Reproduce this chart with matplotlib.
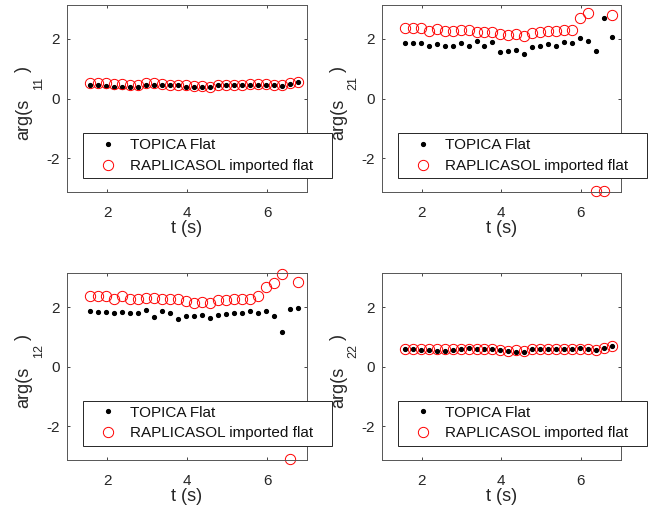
import matplotlib
matplotlib.use('Agg')
import numpy as np
import matplotlib.pyplot as plt

plt.rcParams['font.family'] = ['Liberation Sans', 'DejaVu Sans']
plt.rcParams['axes.unicode_minus'] = False

# time axis (s)
t = [1.58, 1.78, 1.98, 2.18, 2.38, 2.58, 2.78, 2.98, 3.18, 3.38, 3.58, 3.78, 3.98, 4.18,
     4.38, 4.58, 4.78, 4.98, 5.18, 5.38, 5.58, 5.78, 5.98, 6.18, 6.38, 6.58, 6.78]

# phase of S-parameters (rad)
s11_topica = [0.45, 0.46, 0.43, 0.40, 0.37, 0.37, 0.40, 0.46, 0.47, 0.46, 0.45, 0.44, 0.40, 0.37,
              0.37, 0.37, 0.44, 0.44, 0.45, 0.46, 0.46, 0.47, 0.47, 0.46, 0.43, 0.49, 0.56]
s11_raplicasol = [0.51, 0.51, 0.51, 0.48, 0.48, 0.46, 0.47, 0.51, 0.51, 0.48, 0.47, 0.46, 0.44, 0.43,
                  0.43, 0.40, 0.45, 0.46, 0.47, 0.47, 0.49, 0.49, 0.49, 0.47, 0.44, 0.51, 0.55]

s21_topica = [1.87, 1.85, 1.85, 1.76, 1.83, 1.76, 1.76, 1.87, 1.76, 1.94, 1.76, 1.91, 1.57, 1.60,
              1.64, 1.51, 1.74, 1.76, 1.84, 1.75, 1.91, 1.88, 2.02, 1.94, 1.61, 2.71, 2.08]
s21_raplicasol = [2.36, 2.36, 2.36, 2.28, 2.33, 2.26, 2.27, 2.29, 2.29, 2.24, 2.24, 2.22, 2.18, 2.12,
                  2.18, 2.10, 2.19, 2.24, 2.26, 2.26, 2.30, 2.31, 2.70, 2.87, -3.12, -3.12, 2.82]

s12_topica = [1.87, 1.84, 1.84, 1.82, 1.83, 1.81, 1.81, 1.90, 1.67, 1.87, 1.79, 1.61, 1.69, 1.71,
              1.74, 1.63, 1.74, 1.76, 1.82, 1.82, 1.88, 1.79, 1.87, 1.69, 1.16, 1.94, 1.99]
s12_raplicasol = [2.37, 2.37, 2.37, 2.29, 2.37, 2.29, 2.29, 2.31, 2.31, 2.26, 2.26, 2.26, 2.21, 2.14,
                  2.18, 2.13, 2.24, 2.24, 2.28, 2.28, 2.28, 2.39, 2.67, 2.81, 3.13, -3.12, 2.84]

s22_topica = [0.59, 0.61, 0.57, 0.56, 0.51, 0.53, 0.56, 0.61, 0.62, 0.61, 0.59, 0.60, 0.56, 0.53,
              0.50, 0.50, 0.58, 0.59, 0.60, 0.61, 0.61, 0.61, 0.63, 0.59, 0.56, 0.63, 0.71]
s22_raplicasol = [0.61, 0.61, 0.61, 0.60, 0.61, 0.58, 0.60, 0.61, 0.61, 0.61, 0.59, 0.59, 0.57, 0.54,
                  0.56, 0.52, 0.58, 0.59, 0.60, 0.61, 0.60, 0.59, 0.61, 0.59, 0.57, 0.63, 0.70]

labels = ['TOPICA Flat', 'RAPLICASOL imported flat']

W, H = 650, 516
fig = plt.figure(figsize=(W / 100, H / 100), dpi=100)

def fx(px):
    return px / W

def fy(py):
    return 1 - py / H

# (left, top, right, bottom) in pixels, legend (left, top)
panels = [
    ('11', s11_topica, s11_raplicasol, (67, 5, 307, 192), (83, 133.3)),
    ('21', s21_topica, s21_raplicasol, (381.7, 5, 620.7, 192), (397.7, 133.3)),
    ('12', s12_topica, s12_raplicasol, (67, 273.3, 307, 460), (83, 400.7)),
    ('22', s22_topica, s22_raplicasol, (381.7, 273.3, 620.7, 460), (397.7, 400.7)),
]

axcol = '#262626'
for idx, topica, rap, (l, tp, r, b), (lx, ly) in panels:
    ax = fig.add_axes([fx(l), fy(b), (r - l) / W, (b - tp) / H])
    h1, = ax.plot(t, topica, '.', color='k', ms=5.5, clip_on=False)
    h2, = ax.plot(t, rap, 'o', mfc='none', mec='r', mew=0.7, ms=7.4, clip_on=False)
    ax.set_xlim(1, 7)
    ax.set_ylim(-np.pi, np.pi)
    ax.set_xticks([2, 4, 6])
    ax.set_yticks([-2, 0, 2])
    ax.tick_params(direction='in', length=2.5, width=0.6, top=True, right=True,
                   labelsize=11, colors=axcol)
    ax.tick_params(axis='x', pad=10.2)
    ax.tick_params(axis='y', pad=5)
    for sp in ax.spines.values():
        sp.set_color('#555555')
        sp.set_linewidth(0.7)
    ax.set_xlabel('t (s)', fontsize=13, color=axcol)
    ax.xaxis.set_label_coords(0.5, -0.152)

    # y label in MATLAB TeX style: arg(s_{ij})
    cy = (tp + b) / 2
    tkw = dict(rotation=90, rotation_mode='anchor', ha='left', va='baseline', color=axcol)
    fig.text(fx(l - 38.7), fy(cy + 41.5), 'arg(s', fontsize=13, **tkw)
    fig.text(fx(l - 25), fy(cy - 8.5), idx, fontsize=9, **tkw)
    fig.text(fx(l - 38.7), fy(cy - 26.8), ')', fontsize=13, **tkw)

    leg = ax.legend([h1, h2], labels, loc='upper left',
                    bbox_to_anchor=(fx(lx), fy(ly), 249 / W, 0),
                    bbox_transform=fig.transFigure, mode='expand', borderaxespad=0,
                    fontsize=11, frameon=True, fancybox=False, edgecolor=axcol,
                    framealpha=1, borderpad=0.33, labelspacing=0.44,
                    handlelength=2.6, handletextpad=0.14, numpoints=1)
    leg.get_frame().set_linewidth(0.7)
    for txt in leg.get_texts():
        txt.set_color('#111111')

fig.savefig('out.png', dpi=100)
